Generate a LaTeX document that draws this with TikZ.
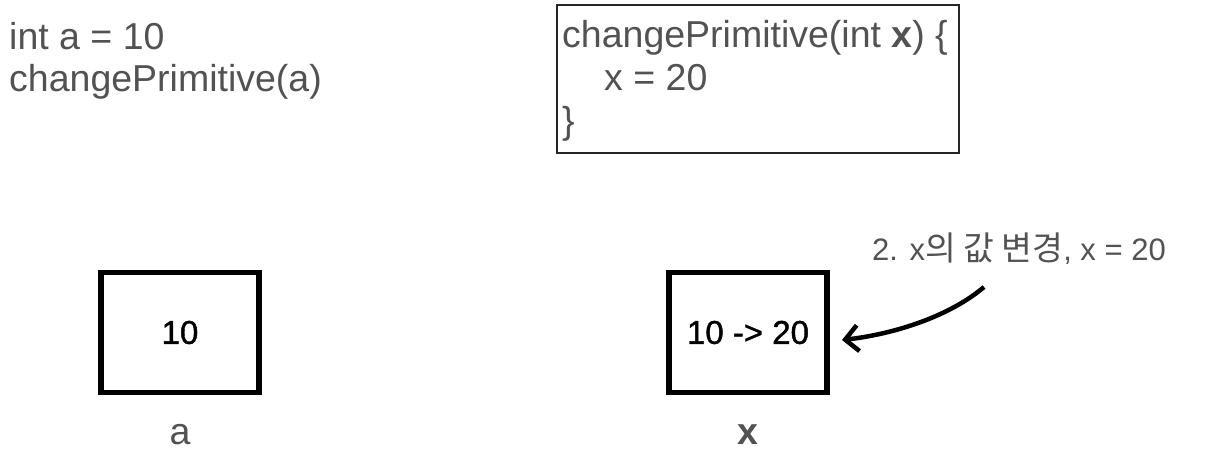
\documentclass[tikz,border=0pt]{standalone}
\usepackage{fontspec}
\setmainfont{Liberation Sans}
\newfontfamily\kr[Scale=1.08]{Noto Sans CJK KR}
\newfontfamily\medium[FakeBold=1.2]{Liberation Sans}
\usetikzlibrary{arrows.meta}
\definecolor{txtgray}{RGB}{82,82,82}
\tikzset{
  codetext/.style={anchor=base west, inner sep=0pt, text=txtgray, font=\fontsize{37.5}{42}\selectfont},
  varbox/.style={draw=black, line width=5.5pt, minimum width=158pt, minimum height=120pt, inner sep=0pt, font=\medium\fontsize{33}{38}\selectfont, text=black},
  varlabel/.style={anchor=base, inner sep=0pt, text=txtgray, font=\fontsize{37.5}{42}\selectfont},
  annot/.style={anchor=base west, inner sep=0pt, text=txtgray, font=\fontsize{31}{35}\selectfont},
  codebox/.style={draw=black!85, line width=1.4pt, minimum width=402pt, minimum height=148pt, inner sep=0pt},
  arrowline/.style={line width=4.5pt, -{Straight Barb[length=13pt,width=26pt]}}
}
\begin{document}
\begin{tikzpicture}[x=1pt,y=-1pt]
\useasboundingbox (0,0) rectangle (1214,457);
\fill[white] (0,0) rectangle (1214,457);
% caller code
\node[codetext] (l1) at (9,50) {int a = 10};
\node[codetext] (l2) at (9,92) {changePrimitive(a)};
% method box
\node[codebox] (cb) at (758,79) {};
\node[codetext] (c1) at (562,48) {changePrimitive(int \textbf{x}) \{};
\node[codetext] (c2) at (604,91) {x = 20};
\node[codetext] (c3) at (562,134) {\}};
% variable boxes
\node[varbox] (boxa) at (180,332.5) {10};
\node[varlabel] (la) at (180,444) {a};
\node[varbox] (boxx) at (748,332.5) {10 -> 20};
\node[varlabel, font=\fontsize{37.5}{42}\selectfont\bfseries] (lx) at (748,444) {x};
% annotation
\node[annot] (ann) at (872,260) {2. x{\kr 의 값 변경}, x = 20};
\coordinate (tail) at (984,287);
\coordinate (tip) at (842,340);
\draw[arrowline] (tail) .. controls (950,316) and (895,334) .. (tip);
\end{tikzpicture}
\end{document}
